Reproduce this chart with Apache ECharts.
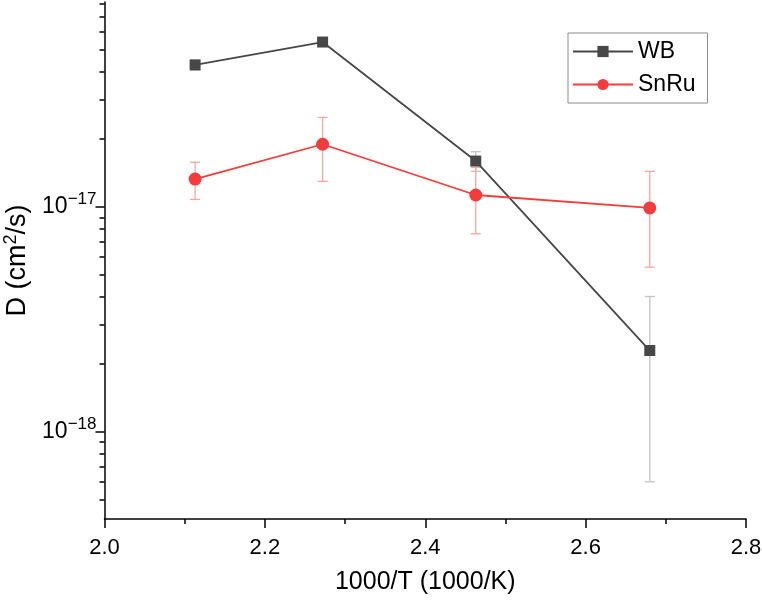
<!DOCTYPE html>
<html>
<head>
<meta charset="utf-8">
<script src="https://cdn.jsdelivr.net/npm/echarts@6/dist/echarts.min.js"></script>
<style>
  html, body { margin: 0; padding: 0; background: #fff; }
  #chart { width: 762px; height: 603px; }
</style>
</head>
<body>
<div id="chart"></div>
<script>
// data
const xValues = [2.113, 2.272, 2.463, 2.680];
const wbValues = [4.28e-17, 5.41e-17, 1.60e-17, 2.30e-18];
const wbErrors = [0.21e-17, 0.1e-17, 0.16e-17, 1.7e-18];
const snruValues = [1.33e-17, 1.90e-17, 1.13e-17, 9.9e-18];
const snruErrors = [2.5e-18, 6.0e-18, 3.7e-18, 4.5e-18];

// tick labels
const yMajorTicks = [1e-18, 1e-17];
const yMinorTicks = [
  5e-19, 6e-19, 7e-19, 8e-19, 9e-19,
  2e-18, 3e-18, 4e-18, 5e-18, 6e-18, 7e-18, 8e-18, 9e-18,
  2e-17, 3e-17, 4e-17, 5e-17, 6e-17, 7e-17, 8e-17
];
const yMin = 4.1e-19;
const yMax = 8.15e-17;

const FONT = 'Liberation Sans, Arial, sans-serif';
const WB_COLOR = '#474747';
const SNRU_COLOR = '#f53c3c';

const wbData = xValues.map((x, i) => [x, wbValues[i]]);
const snruData = xValues.map((x, i) => [x, snruValues[i]]);
const wbErrData = xValues.map((x, i) => [x, wbValues[i], wbErrors[i]]);
const snruErrData = xValues.map((x, i) => [x, snruValues[i], snruErrors[i]]);

function errorBar(color) {
  return function (params, api) {
    const x = api.value(0);
    const y = api.value(1);
    const e = api.value(2);
    const top = api.coord([x, y + e]);
    const bot = api.coord([x, y - e]);
    const hw = 5;
    const style = { stroke: color, lineWidth: 1.3 };
    return {
      type: 'group',
      children: [
        { type: 'line', shape: { x1: top[0], y1: top[1], x2: bot[0], y2: bot[1] }, style: style },
        { type: 'line', shape: { x1: top[0] - hw, y1: top[1], x2: top[0] + hw, y2: top[1] }, style: style },
        { type: 'line', shape: { x1: bot[0] - hw, y1: bot[1], x2: bot[0] + hw, y2: bot[1] }, style: style }
      ]
    };
  };
}

const chart = echarts.init(document.getElementById('chart'));
const option = {
  animation: false,
  backgroundColor: '#fff',
  grid: { left: 104.5, right: 16, top: 2, bottom: 84, outerBoundsMode: 'none' },
  legend: {
    data: ['WB', 'SnRu'],
    orient: 'vertical',
    left: 568,
    top: 33,
    padding: [7, 12, 7, 4],
    itemGap: 10,
    itemWidth: 60,
    itemHeight: 14,
    borderColor: '#8c8c8c',
    borderWidth: 1,
    textStyle: { fontFamily: FONT, fontSize: 23, color: '#000' }
  },
  xAxis: {
    type: 'value',
    min: 2.0,
    max: 2.8,
    interval: 0.2,
    name: '1000/T (1000/K)',
    nameLocation: 'middle',
    nameGap: 51,
    nameTextStyle: { fontFamily: FONT, fontSize: 25, color: '#000' },
    axisLine: { lineStyle: { color: '#000', width: 1.5 } },
    axisTick: { length: 9, lineStyle: { color: '#000', width: 1.5 } },
    minorTick: { show: true, splitNumber: 2, length: 5, lineStyle: { color: '#000', width: 1.5 } },
    axisLabel: {
      fontFamily: FONT, fontSize: 22, color: '#000', margin: 18,
      formatter: v => v.toFixed(1)
    },
    splitLine: { show: false }
  },
  yAxis: [
    {
      type: 'log',
      min: yMin,
      max: yMax,
      name: 'D (cm{sup|2}/s)',
      nameLocation: 'middle',
      nameGap: 65,
      nameTextStyle: {
        fontFamily: FONT, fontSize: 27, color: '#000',
        rich: { sup: { fontFamily: FONT, fontSize: 18, color: '#000', padding: [0, 0, 13, 0] } }
      },
      axisLine: { show: true, lineStyle: { color: '#000', width: 1.5 } },
      axisTick: { length: 9, customValues: yMajorTicks, lineStyle: { color: '#000', width: 1.5 } },
      axisLabel: {
        customValues: yMajorTicks,
        margin: 8,
        formatter: v => '{b|10}{s|\u2212' + Math.abs(Math.round(Math.log10(v))) + '}',
        rich: {
          b: { fontFamily: FONT, fontSize: 23, color: '#000' },
          s: { fontFamily: FONT, fontSize: 17, color: '#000', padding: [0, 0, 15, 0] }
        }
      },
      splitLine: { show: false }
    },
    {
      type: 'log',
      min: yMin,
      max: yMax,
      position: 'left',
      axisLine: { show: false },
      axisTick: { length: 5, customValues: yMinorTicks, lineStyle: { color: '#000', width: 1.5 } },
      axisLabel: { show: false },
      splitLine: { show: false }
    }
  ],
  series: [
    {
      type: 'custom',
      name: 'WB err',
      renderItem: errorBar('#c4c4c4'),
      encode: { x: 0, y: 1 },
      data: wbErrData,
      z: 1
    },
    {
      type: 'custom',
      name: 'SnRu err',
      renderItem: errorBar('#f7a6a6'),
      encode: { x: 0, y: 1 },
      data: snruErrData,
      z: 1
    },
    {
      type: 'line',
      name: 'WB',
      data: wbData,
      symbol: 'rect',
      symbolSize: 11,
      color: WB_COLOR,
      lineStyle: { color: WB_COLOR, width: 1.8 },
      itemStyle: { color: WB_COLOR },
      z: 3
    },
    {
      type: 'line',
      name: 'SnRu',
      data: snruData,
      symbol: 'circle',
      symbolSize: 13,
      color: SNRU_COLOR,
      lineStyle: { color: SNRU_COLOR, width: 1.8 },
      itemStyle: { color: SNRU_COLOR },
      z: 4
    }
  ]
};
chart.setOption(option);
</script>
</body>
</html>
